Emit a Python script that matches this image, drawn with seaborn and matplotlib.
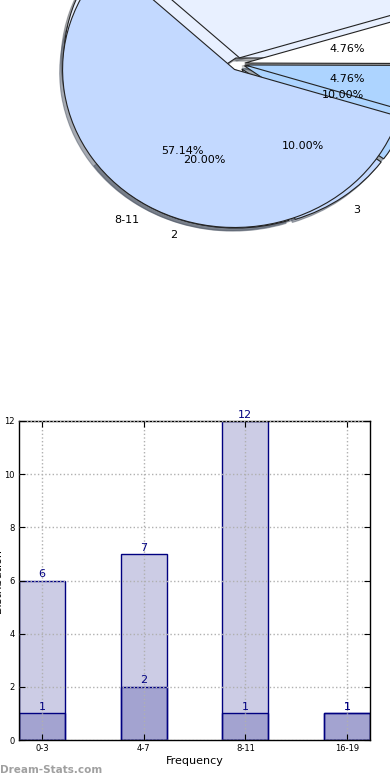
import numpy as np
import pandas as pd
import seaborn as sns
import matplotlib.pyplot as plt

# two overlaid pies (the second one sits underneath)
pie_front_values = [12, 1, 1, 7]
pie_front_labels = ['8-11', '12-15', '16-19', '4-7']
pie_back_values = [2, 1, 1, 6]
pie_back_labels = ['2', '3', '4', '1']

# bar chart
categories = ['0-3', '4-7', '8-11', '16-19']
total_counts = [6, 7, 12, 1]
sub_counts = [1, 2, 1, 1]

front_colors = ['#c3d9ff', '#add4ff', '#ffffff', '#e8f0ff']
back_colors = ['#c3d9ff', '#c3d9ff', '#add4ff', '#e8f0ff']
navy_fill = (0, 0, 0.5, 0.2)

fig = plt.figure(figsize=(3.9, 7.8), dpi=100)

# ---- pie part ----
ax_pie = fig.add_axes([0, 0.5, 1, 0.5])
pie_kw = dict(autopct='%1.2f%%',
              shadow={'ox': -0.012, 'oy': -0.014, 'shade': 0.6},
              wedgeprops=dict(edgecolor='#222222', linewidth=0.8),
              textprops=dict(fontsize=8))
ax_pie.pie(pie_back_values, labels=pie_back_labels, colors=back_colors,
           startangle=216, explode=[0.04] * len(pie_back_values), **pie_kw)
ax_pie.pie(pie_front_values, labels=pie_front_labels, colors=front_colors,
           startangle=137, explode=[0.04] * len(pie_front_values), **pie_kw)
ax_pie.set_aspect('auto')
ax_pie.set_xlim(-1.384, 0.884)
ax_pie.set_ylim(-2.063, 0.405)
ax_pie.axis('off')

# ---- bar part ----
ax = fig.add_axes([19 / 390, 40 / 780, 351 / 390, 319 / 780])
df = pd.DataFrame({'range': categories, 'total': total_counts, 'sub': sub_counts})
sns.barplot(data=df, x='range', y='total', ax=ax, width=0.45, saturation=1,
            color='navy', errorbar=None)
sns.barplot(data=df, x='range', y='sub', ax=ax, width=0.45, saturation=1,
            color='navy', errorbar=None)
for p in ax.patches:
    p.set_facecolor(navy_fill)
    p.set_edgecolor('navy')
    p.set_linewidth(1)
for c in ax.containers:
    ax.bar_label(c, color='navy', fontsize=8, padding=1)

ax.set_xlim(-0.225, 3.225)
ax.set_ylim(0, 12)
ax.set_yticks(range(0, 13, 2))
ax.grid(True, linestyle=':', color='#b0b0b0', linewidth=1)
ax.set_axisbelow(False)
ax.tick_params(labelsize=6, direction='in', top=True, right=True, length=4, pad=3)
for s in ax.spines.values():
    s.set_color('black')
    s.set_linewidth(1)
ax.set_xlabel('Frequency', fontsize=8, labelpad=2)
ax.set_ylabel('Distribution', fontsize=8)
ax.yaxis.set_label_coords(-0.046, 0.5)

fig.text(0.0, 10 / 780, 'Dream-Stats.com', ha='left', va='center',
         fontsize=7.5, fontweight='bold', color='#a0a0a0')

fig.savefig('out.png', dpi=100)
